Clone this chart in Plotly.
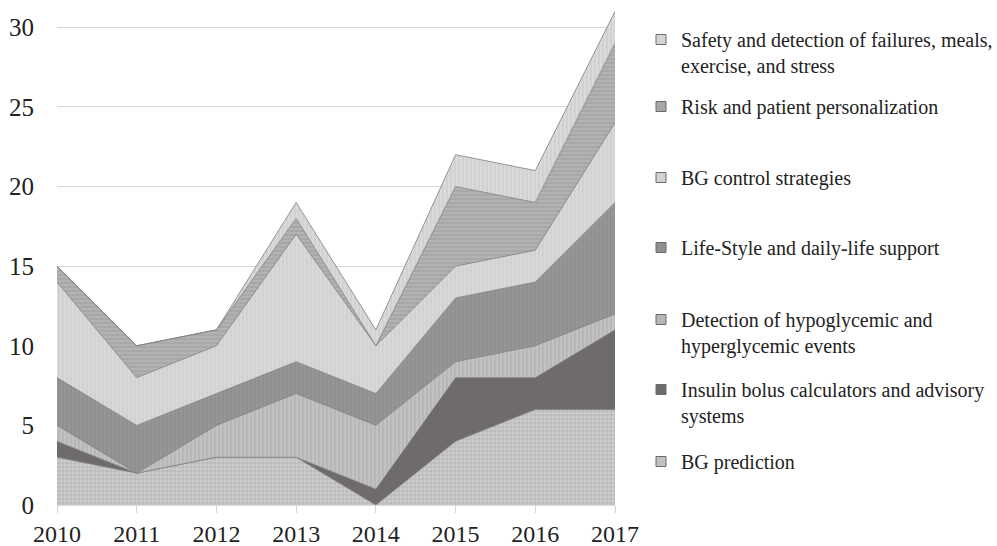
import plotly.graph_objects as go

years = [2010, 2011, 2012, 2013, 2014, 2015, 2016, 2017]

bg_prediction = [3, 2, 3, 3, 0, 4, 6, 6]
insulin_bolus = [1, 0, 0, 0, 1, 4, 2, 5]
detection_events = [1, 0, 2, 4, 4, 1, 2, 1]
lifestyle_support = [3, 3, 2, 2, 2, 4, 4, 7]
bg_control = [6, 3, 3, 8, 3, 2, 2, 5]
risk_personalization = [1, 2, 1, 1, 0, 5, 3, 5]
safety_detection = [0, 0, 0, 1, 1, 2, 2, 2]

series_names = [
    "BG prediction",
    "Insulin bolus calculators and advisory<br>systems",
    "Detection of hypoglycemic and<br>hyperglycemic events",
    "Life-Style and daily-life support",
    "BG control strategies",
    "Risk and patient personalization",
    "Safety and detection of failures, meals,<br>exercise, and stress",
]
series_values = [bg_prediction, insulin_bolus, detection_events, lifestyle_support,
                 bg_control, risk_personalization, safety_detection]

y_ticks = [0, 5, 10, 15, 20, 25, 30]

# styles: (bgcolor, fgcolor, shape, legend swatch colour)
styles = [
    ("#cdcdcd", "#949494", "+", "#c0c0c0"),
    ("#6f6b6b", "#6f6b6b", "", "#6f6b6b"),
    ("#c2c2c2", "#a2a2a2", "|", "#b6b6b6"),
    ("#969696", "#828282", "|", "#8f8f8f"),
    ("#d9d9d9", "#c4c4c4", "|", "#d2d2d2"),
    ("#b2b2b2", "#939393", "-", "#a6a6a6"),
    ("#dadada", "#c2c2c2", "|", "#d4d4d4"),
]

# legend first-line centres (px from top of the page)
legend_rows = [462, 390, 320, 248, 178, 107, 40]

W, H = 997, 546
fig = go.Figure()

for i, (name, vals) in enumerate(zip(series_names, series_values)):
    bg, fg, shape, sw = styles[i]
    fp = dict(shape=shape, bgcolor=bg, fgcolor=fg, size=4, solidity=0.35) if shape else None
    fig.add_trace(go.Scatter(
        x=years, y=vals, mode="lines", stackgroup="one",
        line=dict(color="#7d7d7d", width=0.8),
        fillcolor=bg, fillpattern=fp,
        name=name.replace("<br>", " "), showlegend=False, hoverinfo="x+y+name",
    ))

legend_layouts = {}
for i, name in enumerate(series_names):
    key = "legend" if i == 0 else f"legend{i+1}"
    fig.add_trace(go.Scatter(
        x=[None], y=[None], mode="markers", name=name,
        marker=dict(symbol="square", size=10, color=styles[i][3],
                    line=dict(color="#6a6a6a", width=1)),
        legend=key, showlegend=True,
    ))
    legend_layouts[key] = dict(
        xref="container", yref="container",
        x=641 / W, y=1 - (legend_rows[i] - 20) / H,
        xanchor="left", yanchor="top", valign="top",
        bgcolor="rgba(0,0,0,0)", borderwidth=0,
        font=dict(family="Liberation Serif", size=20, color="#222"),
        itemwidth=30, tracegroupgap=0,
    )

fig.update_layout(
    width=W, height=H,
    margin=dict(l=57, r=382, t=5, b=41, autoexpand=False),
    paper_bgcolor="white", plot_bgcolor="white",
    font=dict(family="Liberation Serif", color="#222"),
    xaxis=dict(range=[2010, 2017], tickvals=years, ticktext=[str(y) for y in years],
               showgrid=False, ticks="outside", ticklen=7, tickcolor="#d4d4d4",
               showline=True, linecolor="#d9d9d9", linewidth=1,
               ticklabelstandoff=0, automargin=False,
               tickfont=dict(size=24, color="#222"), zeroline=False),
    yaxis=dict(range=[0, 31.4], tickvals=y_ticks, showgrid=True, gridcolor="#d9d9d9",
               gridwidth=1, zeroline=False, showline=False, ticks="",
               ticklabelstandoff=22, automargin=False,
               tickfont=dict(size=25, color="#222")),
    **legend_layouts,
)

fig.write_html("out.html", config={"displayModeBar": False},
               post_script="document.body.style.margin='0';")
